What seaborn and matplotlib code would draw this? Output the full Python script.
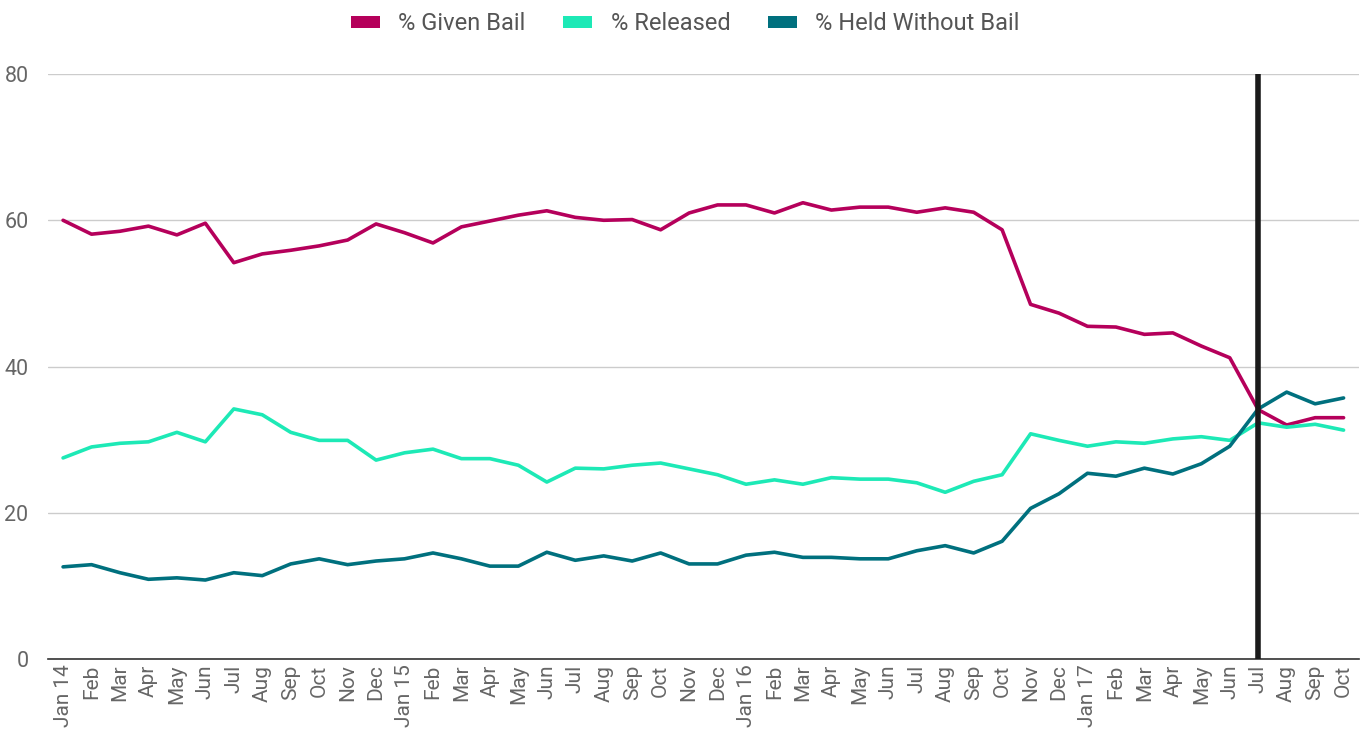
import numpy as np
import pandas as pd
import seaborn as sns
import matplotlib.pyplot as plt
from matplotlib.patches import Patch

months = ['Jan 14', 'Feb', 'Mar', 'Apr', 'May', 'Jun', 'Jul', 'Aug', 'Sep', 'Oct', 'Nov', 'Dec',
          'Jan 15', 'Feb', 'Mar', 'Apr', 'May', 'Jun', 'Jul', 'Aug', 'Sep', 'Oct', 'Nov', 'Dec',
          'Jan 16', 'Feb', 'Mar', 'Apr', 'May', 'Jun', 'Jul', 'Aug', 'Sep', 'Oct', 'Nov', 'Dec',
          'Jan 17', 'Feb', 'Mar', 'Apr', 'May', 'Jun', 'Jul', 'Aug', 'Sep', 'Oct']

given_bail = [60.0, 58.1, 58.5, 59.2, 58.0, 59.6, 54.2, 55.4, 55.9, 56.5, 57.3, 59.5,
              58.3, 56.9, 59.1, 59.9, 60.7, 61.3, 60.4, 60.0, 60.1, 58.7, 61.0, 62.1,
              62.1, 61.0, 62.4, 61.4, 61.8, 61.8, 61.1, 61.7, 61.1, 58.7, 48.5, 47.3,
              45.5, 45.4, 44.4, 44.6, 42.8, 41.2, 34.1, 32.0, 33.0, 33.0]
released = [27.5, 29.0, 29.5, 29.7, 31.0, 29.7, 34.2, 33.4, 31.0, 29.9, 29.9, 27.2,
            28.2, 28.7, 27.4, 27.4, 26.5, 24.2, 26.1, 26.0, 26.5, 26.8, 26.0, 25.2,
            23.9, 24.5, 23.9, 24.8, 24.6, 24.6, 24.1, 22.8, 24.3, 25.2, 30.8, 29.9,
            29.1, 29.7, 29.5, 30.1, 30.4, 29.9, 32.3, 31.7, 32.1, 31.3]
held = [12.6, 12.9, 11.8, 10.9, 11.1, 10.8, 11.8, 11.4, 13.0, 13.7, 12.9, 13.4,
        13.7, 14.5, 13.7, 12.7, 12.7, 14.6, 13.5, 14.1, 13.4, 14.5, 13.0, 13.0,
        14.2, 14.6, 13.9, 13.9, 13.7, 13.7, 14.8, 15.5, 14.5, 16.1, 20.6, 22.6,
        25.4, 25.0, 26.1, 25.3, 26.7, 29.1, 34.2, 36.5, 34.9, 35.7]

series = ['% Given Bail', '% Released', '% Held Without Bail']
colors = ['#B5005B', '#1DE9B6', '#00707E']
marker_month = 42  # Jul 17

idx = np.arange(len(months))
df = pd.concat([
    pd.DataFrame({'i': idx, 'value': vals, 'series': name})
    for name, vals in zip(series, [given_bail, released, held])
])

sns.set_style('white')
plt.rcParams['font.family'] = ['Roboto', 'DejaVu Sans']

fig = plt.figure(figsize=(13.71, 7.48), dpi=100)
ax = fig.add_axes([0.035, 0.119, 0.956, 0.782])

sns.lineplot(data=df, x='i', y='value', hue='series', palette=colors,
             linewidth=2.6, ax=ax, legend=False, sort=False)

ax.axvline(marker_month, ymin=0, ymax=1, color='#1a1a1a', linewidth=4, zorder=5)

ax.set_xlim(-0.53, 45.53)
ax.set_ylim(0, 80)
ax.set_yticks([0, 20, 40, 60, 80])
ax.set_xticks(idx)
ax.set_xticklabels(months, rotation=90, fontsize=15, color='#666666')
ax.tick_params(axis='y', labelsize=15.5, labelcolor='#666666', length=0, pad=14)
ax.tick_params(axis='x', length=0, pad=4)
ax.set_xlabel('')
ax.set_ylabel('')
ax.grid(axis='y', color='#cccccc', linewidth=1)
ax.grid(axis='x', visible=False)
for s in ['top', 'right', 'left']:
    ax.spines[s].set_visible(False)
ax.spines['bottom'].set_color('#333333')
ax.spines['bottom'].set_linewidth(1.2)

handles = [Patch(facecolor=c, edgecolor='none') for c in colors]
fig.legend(handles, series, loc='upper center', bbox_to_anchor=(0.5, 1.012), ncol=3,
           frameon=False, fontsize=17, handlelength=1.2, handleheight=0.4,
           columnspacing=1.6, handletextpad=0.8, labelcolor='#555555')

fig.savefig('out.png', dpi=100)
